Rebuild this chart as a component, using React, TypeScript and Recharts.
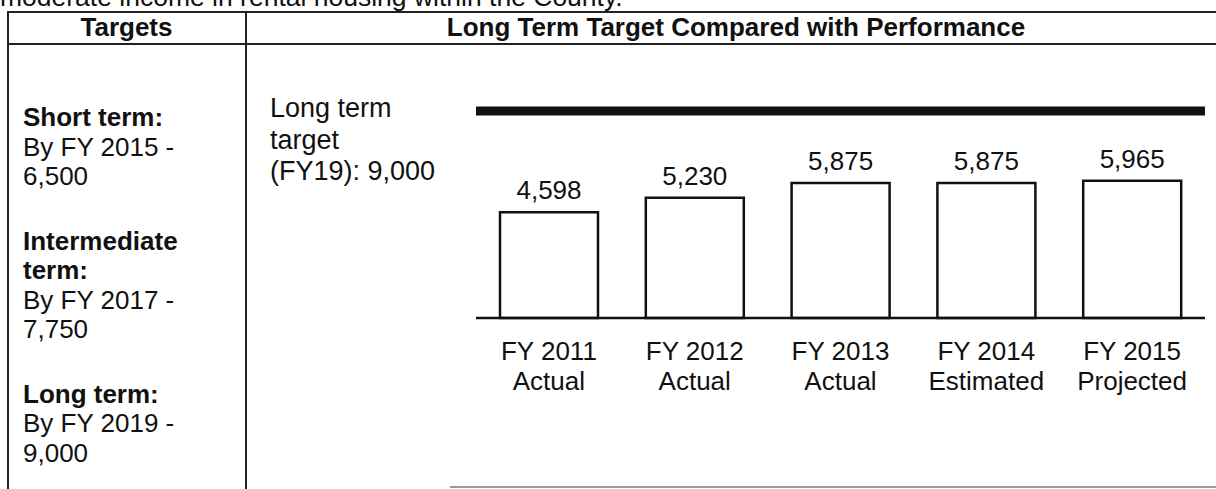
import React from 'react';
import { Bar, BarChart, LabelList, ReferenceLine, XAxis, YAxis } from 'recharts';

const fiscalYears = ['FY 2011', 'FY 2012', 'FY 2013', 'FY 2014', 'FY 2015'];
const valueKinds = ['Actual', 'Actual', 'Actual', 'Estimated', 'Projected'];
const performance = [4598, 5230, 5875, 5875, 5965];
const longTermTarget = 9000;
const targetLabelLines = ['Long term', 'target', '(FY19): 9,000'];

const targetBlocks = [
  { heading: ['Short term:'], lines: ['By FY 2015 -', '6,500'] },
  { heading: ['Intermediate', 'term:'], lines: ['By FY 2017 -', '7,750'] },
  { heading: ['Long term:'], lines: ['By FY 2019 -', '9,000'] },
];

const FONT = '"Liberation Sans", Arial, Helvetica, sans-serif';
const INK = '#111';

const chartRows = fiscalYears.map((year, i) => ({
  year,
  kind: valueKinds[i],
  value: performance[i],
}));

function YearTick({ x, y, payload }: any) {
  const i = fiscalYears.indexOf(payload.value);
  return (
    <text x={x} y={y} textAnchor="middle" fill={INK} fontSize={26} fontFamily={FONT}>
      <tspan x={x} dy={42}>
        {payload.value}
      </tspan>
      <tspan x={x} dy={30}>
        {valueKinds[i]}
      </tspan>
    </text>
  );
}

function TargetLabel({ viewBox }: any) {
  const x0 = (viewBox?.x ?? 230) - 206;
  const y0 = (viewBox?.y ?? 67) + 6;
  return (
    <text fill={INK} fontSize={27} fontFamily={FONT}>
      {targetLabelLines.map((line, i) => (
        <tspan key={line} x={x0} y={y0 + i * 31.5}>
          {line}
        </tspan>
      ))}
    </text>
  );
}

const rule = (left: number, top: number, width: number, height: number, color = '#222') => (
  <div style={{ position: 'absolute', left, top, width, height, background: color }} />
);

export default function App() {
  return (
    <div
      style={{
        position: 'absolute',
        left: 0,
        top: 0,
        width: 1216,
        height: 489,
        overflow: 'hidden',
        background: '#fff',
        fontFamily: FONT,
        color: INK,
      }}
    >
      {/* clipped sentence above the table */}
      <div
        style={{
          position: 'absolute',
          left: 0,
          top: -18,
          fontSize: 26.5,
          lineHeight: '30px',
          whiteSpace: 'nowrap',
        }}
      >
        moderate income in rental housing within the County.
      </div>

      {/* table rules */}
      {rule(7, 10.5, 1209, 2)}
      {rule(7, 42.5, 1209, 2)}
      {rule(6.5, 10.5, 2, 479)}
      {rule(245, 10.5, 2, 479)}
      {rule(450, 486, 766, 2, '#9a9a9a')}

      {/* header cells */}
      <div
        style={{
          position: 'absolute',
          left: 7,
          top: 12,
          width: 239,
          textAlign: 'center',
          fontSize: 26,
          lineHeight: '30px',
          fontWeight: 'bold',
        }}
      >
        Targets
      </div>
      <div
        style={{
          position: 'absolute',
          left: 246,
          top: 12,
          width: 980,
          textAlign: 'center',
          fontSize: 26,
          lineHeight: '30px',
          fontWeight: 'bold',
          whiteSpace: 'nowrap',
        }}
      >
        Long Term Target Compared with Performance
      </div>

      {/* left column targets */}
      <div style={{ position: 'absolute', left: 23, top: 103, fontSize: 26, lineHeight: '29.5px' }}>
        {targetBlocks.map((block, i) => (
          <div key={i} style={{ marginBottom: 35 }}>
            {block.heading.map((h) => (
              <div key={h} style={{ fontWeight: 'bold', whiteSpace: 'nowrap' }}>
                {h}
              </div>
            ))}
            {block.lines.map((l) => (
              <div key={l} style={{ whiteSpace: 'nowrap' }}>
                {l}
              </div>
            ))}
          </div>
        ))}
      </div>

      {/* chart */}
      <div style={{ position: 'absolute', left: 246, top: 44, width: 970, height: 445 }}>
        <BarChart
          width={970}
          height={445}
          data={chartRows}
          margin={{ top: 67, right: 11, bottom: 111, left: 230 }}
        >
          <YAxis hide domain={[0, longTermTarget]} type="number" />
          <XAxis
            dataKey="year"
            height={60}
            interval={0}
            tickLine={false}
            tickSize={0}
            tickMargin={0}
            axisLine={{ stroke: INK, strokeWidth: 2.5 }}
            tick={<YearTick />}
          />
          <Bar
            dataKey="value"
            fill="#fff"
            stroke={INK}
            strokeWidth={2.5}
            barSize={98}
            isAnimationActive={false}
          >
            <LabelList
              dataKey="value"
              position="top"
              offset={13}
              fill={INK}
              fontSize={26}
              fontFamily={FONT}
              formatter={(v: any) => Number(v).toLocaleString('en-US')}
            />
          </Bar>
          <ReferenceLine
            y={longTermTarget}
            stroke={INK}
            strokeWidth={9}
            ifOverflow="visible"
            label={<TargetLabel />}
          />
        </BarChart>
      </div>
    </div>
  );
}
